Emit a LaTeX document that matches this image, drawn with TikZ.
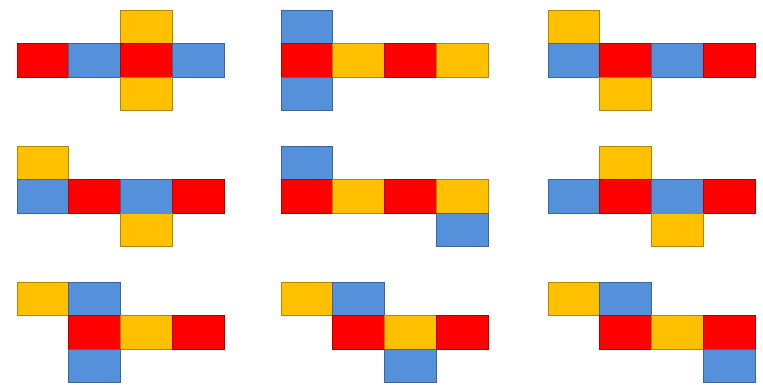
\documentclass[tikz,border=0pt]{standalone}
\usepackage{tikz}
\usetikzlibrary{positioning}
\definecolor{faceR}{HTML}{FF0000}
\definecolor{faceB}{HTML}{5590DA}
\definecolor{faceY}{HTML}{FFC000}

\begin{document}
\begin{tikzpicture}[
  x=1pt,y=-1pt,
  cell/.style={draw=#1!70!black,fill=#1,line width=0.5pt,minimum width=51.7pt,minimum height=33.5pt,
    inner sep=0pt,outer sep=0pt,anchor=north west}
]
\useasboundingbox (0,0) rectangle (763,384);
% nine nets: origin of the 4x3 grid, then column/row/face of each square
\foreach \n/\ox/\oy/\cells in {
  1/17/10/{2/0/faceY,0/1/faceR,1/1/faceB,2/1/faceR,3/1/faceB,2/2/faceY},
  2/281/10/{0/0/faceB,0/1/faceR,1/1/faceY,2/1/faceR,3/1/faceY,0/2/faceB},
  3/548/10/{0/0/faceY,0/1/faceB,1/1/faceR,2/1/faceB,3/1/faceR,1/2/faceY},
  4/17/146/{0/0/faceY,0/1/faceB,1/1/faceR,2/1/faceB,3/1/faceR,2/2/faceY},
  5/281/146/{0/0/faceB,0/1/faceR,1/1/faceY,2/1/faceR,3/1/faceY,3/2/faceB},
  6/548/146/{1/0/faceY,0/1/faceB,1/1/faceR,2/1/faceB,3/1/faceR,2/2/faceY},
  7/17/282/{0/0/faceY,1/0/faceB,1/1/faceR,2/1/faceY,3/1/faceR,1/2/faceB},
  8/281/282/{0/0/faceY,1/0/faceB,1/1/faceR,2/1/faceY,3/1/faceR,2/2/faceB},
  9/548/282/{0/0/faceY,1/0/faceB,1/1/faceR,2/1/faceY,3/1/faceR,3/2/faceB}} {
  \foreach \c/\r/\face in \cells {
    \node[cell=\face] (net\n-\c\r) at (\ox+\c*51.7,\oy+\r*33.5) {};
  }
}
\end{tikzpicture}
\end{document}
